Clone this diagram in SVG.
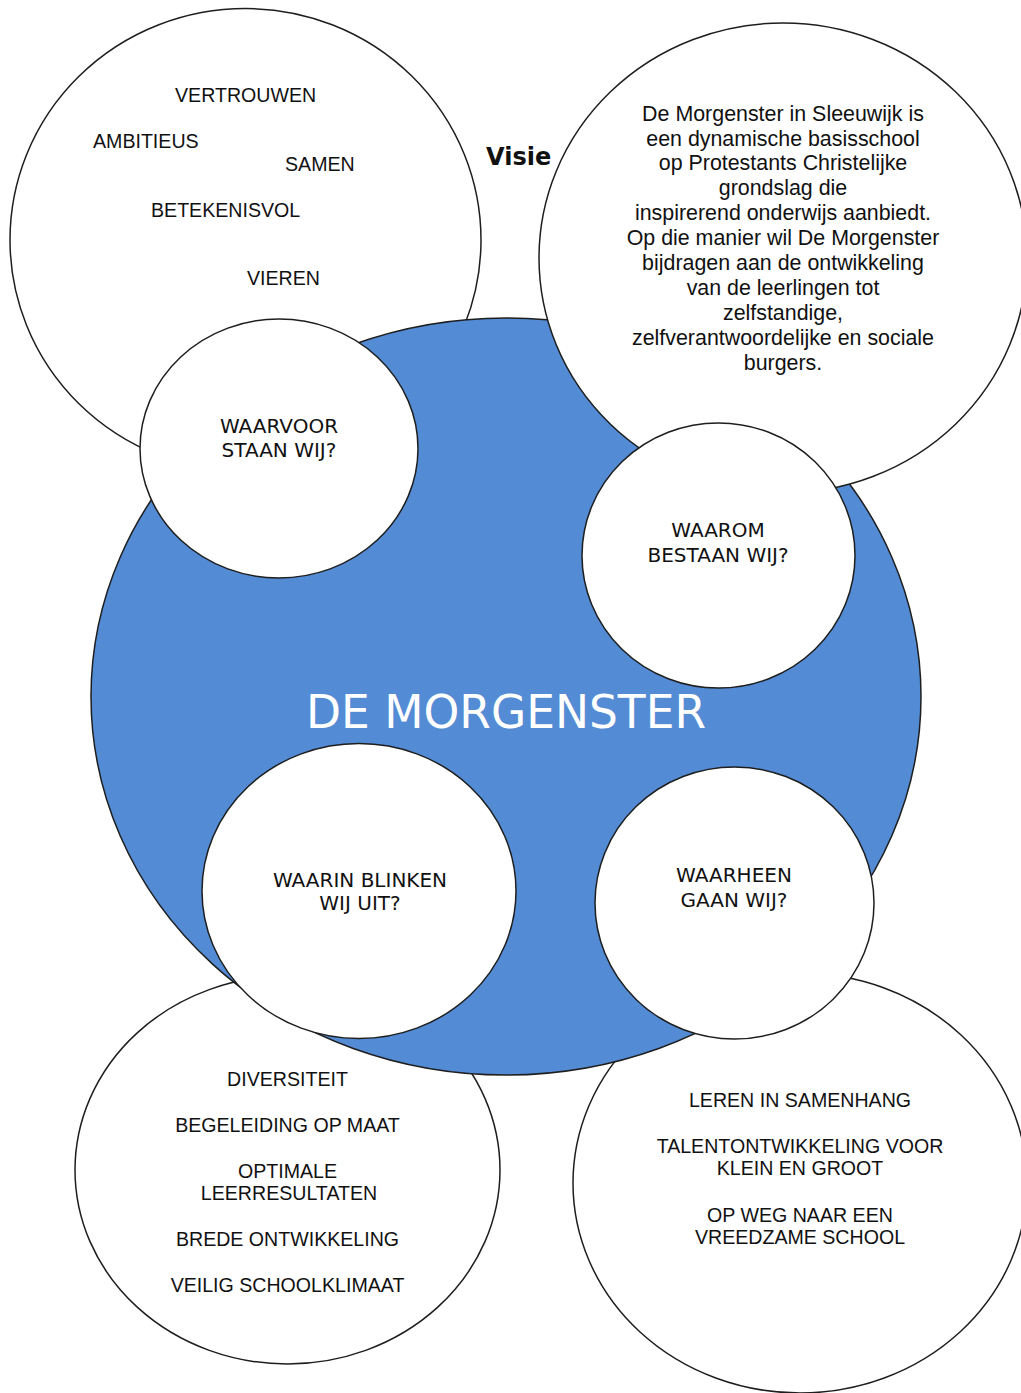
<svg xmlns="http://www.w3.org/2000/svg" width="1021" height="1393" viewBox="0 0 1021 1393">
<style>
.c{fill:#fff;stroke:#1e1e1e;stroke-width:1.5}
.blue{fill:#538bd4;stroke:#1e1e1e;stroke-width:1.5}
.a{font-family:"Liberation Sans",Arial,sans-serif;font-size:19.6px;fill:#111}
.m{text-anchor:middle}
.v{font-family:"DejaVu Sans",Verdana,sans-serif;font-size:20px;fill:#111;text-anchor:middle}
.t{font-family:"Liberation Sans",Arial,sans-serif;font-size:21.4px;fill:#111;text-anchor:middle}
</style>
<rect width="1021" height="1393" fill="#fff"/>
<g id="waarden">
<ellipse class="c" cx="245.5" cy="240" rx="235.5" ry="231.5"/>
<text class="a" x="175" y="102">VERTROUWEN</text>
<text class="a" x="93" y="148">AMBITIEUS</text>
<text class="a" x="285" y="171">SAMEN</text>
<text class="a" x="151" y="217">BETEKENISVOL</text>
<text class="a" x="247" y="285">VIEREN</text>
</g>
<g id="uitblinken">
<ellipse class="c" cx="287.5" cy="1170" rx="212.5" ry="194"/>
<text class="a m" x="287.5" y="1086">DIVERSITEIT</text>
<text class="a m" x="287.5" y="1132">BEGELEIDING OP MAAT</text>
<text class="a m" x="287.5" y="1178">OPTIMALE</text>
<text class="a m" x="289" y="1200">LEERRESULTATEN</text>
<text class="a m" x="287.5" y="1246">BREDE ONTWIKKELING</text>
<text class="a m" x="287.5" y="1292">VEILIG SCHOOLKLIMAAT</text>
</g>
<g id="toekomst">
<ellipse class="c" cx="800" cy="1183" rx="227" ry="210"/>
<text class="a m" x="800" y="1107">LEREN IN SAMENHANG</text>
<text class="a m" x="800" y="1153">TALENTONTWIKKELING VOOR</text>
<text class="a m" x="800" y="1175">KLEIN EN GROOT</text>
<text class="a m" x="800" y="1222">OP WEG NAAR EEN</text>
<text class="a m" x="800" y="1244">VREEDZAME SCHOOL</text>
</g>
<g id="de-morgenster">
<ellipse class="blue" cx="506" cy="696.5" rx="415" ry="378.5"/>
<text x="506" y="728" text-anchor="middle" font-family="'DejaVu Sans',Verdana,sans-serif" font-size="45.5" fill="#fff">DE MORGENSTER</text>
</g>
<g id="visie-label">
<text x="486" y="165" font-family="'DejaVu Sans',Verdana,sans-serif" font-weight="bold" font-size="24" fill="#111">Visie</text>
</g>
<g id="visie">
<ellipse class="c" cx="783" cy="258" rx="244" ry="235"/>
<text class="t" x="783" y="121">De Morgenster in Sleeuwijk is</text>
<text class="t" x="783" y="146">een dynamische basisschool</text>
<text class="t" x="783" y="170">op Protestants Christelijke</text>
<text class="t" x="783" y="195">grondslag die</text>
<text class="t" x="783" y="220">inspirerend onderwijs aanbiedt.</text>
<text class="t" x="783" y="245">Op die manier wil De Morgenster</text>
<text class="t" x="783" y="270">bijdragen aan de ontwikkeling</text>
<text class="t" x="783" y="295">van de leerlingen tot</text>
<text class="t" x="783" y="320">zelfstandige,</text>
<text class="t" x="783" y="345">zelfverantwoordelijke en sociale</text>
<text class="t" x="783" y="370">burgers.</text>
</g>
<g id="waarvoor">
<ellipse class="c" cx="279" cy="448.5" rx="139" ry="129.5"/>
<text class="v" x="279" y="433">WAARVOOR</text>
<text class="v" x="279" y="457">STAAN WIJ?</text>
</g>
<g id="waarom">
<ellipse class="c" cx="718.5" cy="555.5" rx="136.5" ry="132.5"/>
<text class="v" x="718" y="537">WAAROM</text>
<text class="v" x="718" y="562">BESTAAN WIJ?</text>
</g>
<g id="waarin">
<ellipse class="c" cx="359" cy="891" rx="157" ry="147.5"/>
<text class="v" x="360" y="887">WAARIN BLINKEN</text>
<text class="v" x="360" y="910">WIJ UIT?</text>
</g>
<g id="waarheen">
<ellipse class="c" cx="734.5" cy="903" rx="139.5" ry="136"/>
<text class="v" x="734" y="882">WAARHEEN</text>
<text class="v" x="734" y="907">GAAN WIJ?</text>
</g>
<g id="connectors"/>
</svg>
